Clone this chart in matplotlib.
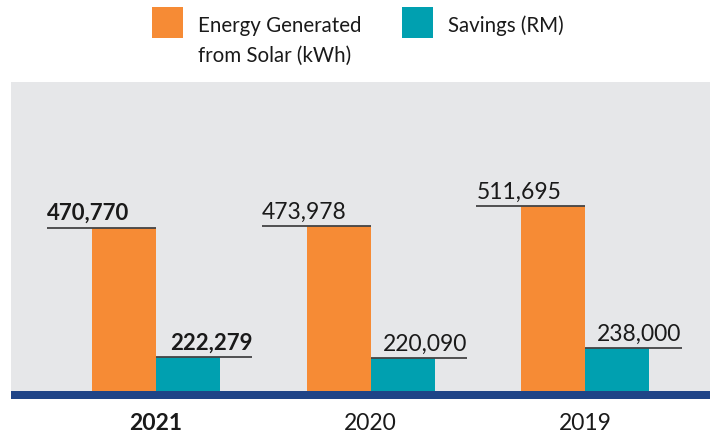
import matplotlib.pyplot as plt
from matplotlib.patches import Rectangle

# Data
years = ['2021', '2020', '2019']
energy_kwh = [470770, 473978, 511695]
savings_rm = [222279, 220090, 238000]
highlight = '2021'

ORANGE = '#f68b35'
TEAL = '#00a0b0'
NAVY = '#1f4487'
PANEL = '#e6e7e9'
INK = '#1a1a1a'

plt.rcParams['font.family'] = ['Lato', 'DejaVu Sans']

W, H = 721, 435
fig = plt.figure(figsize=(W / 100, H / 100), dpi=100)

# axes covers the grey panel
ax = fig.add_axes([11 / W, (H - 392) / H, 699 / W, (392 - 83) / H])
ax.set_facecolor(PANEL)
for s in ax.spines.values():
    s.set_visible(False)

bar_w = 0.298
x = list(range(len(years)))
x_e = [i - bar_w / 2 for i in x]
x_s = [i + bar_w / 2 for i in x]

ax.bar(x_e, energy_kwh, width=bar_w, color=ORANGE, zorder=2)
ax.bar(x_s, savings_rm, width=bar_w, color=TEAL, zorder=2)

ax.set_xlim(-0.675, 2.58)
ax.set_ylim(156000, 751000)
ax.set_yticks([])

# value labels with rule lines
ext_l = 0.21
ext_r = 0.15
for i, yr in enumerate(years):
    bold = yr == highlight
    weight = 'bold' if bold else 'normal'
    fs = 16 if bold else 16.5
    # energy
    x0 = x_e[i] - bar_w / 2 - ext_l
    x1 = x_e[i] + bar_w / 2
    ax.plot([x0, x1], [energy_kwh[i]] * 2, color='#444444', lw=1.3,
            solid_capstyle='butt', zorder=3)
    ax.annotate(f'{energy_kwh[i]:,}', (x0, energy_kwh[i]),
                xytext=(0, 6), textcoords='offset points',
                ha='left', va='baseline', fontsize=fs, fontweight=weight,
                color=INK)
    # savings
    x0 = x_s[i] - bar_w / 2
    x1 = x_s[i] + bar_w / 2 + ext_r
    ax.plot([x0, x1], [savings_rm[i]] * 2, color='#444444', lw=1.3,
            solid_capstyle='butt', zorder=3)
    ax.annotate(f'{savings_rm[i]:,}', (x1, savings_rm[i]),
                xytext=(0, 6), textcoords='offset points',
                ha='right', va='baseline', fontsize=fs, fontweight=weight,
                color=INK)

ax.set_xticks(x)
ax.set_xticklabels(years, fontsize=16.5, color=INK)
for lbl in ax.get_xticklabels():
    if lbl.get_text() == highlight:
        lbl.set_fontweight('bold')
        lbl.set_fontsize(16.5)
ax.tick_params(axis='x', length=0, pad=15)

# navy base band
fig.add_artist(Rectangle((11 / W, (H - 400) / H), 699 / W, 8 / H,
                         transform=fig.transFigure, color=NAVY, lw=0))

# legend drawn by hand (handle aligns with the first text line)
fig.add_artist(Rectangle((152 / W, (H - 39) / H), 31 / W, 31 / H,
                         transform=fig.transFigure, color=ORANGE, lw=0))
fig.text(198 / W, (H - 32) / H, 'Energy Generated', fontsize=14.8,
         color=INK, va='baseline')
fig.text(198 / W, (H - 62) / H, 'from Solar (kWh)', fontsize=14.8,
         color=INK, va='baseline')
fig.add_artist(Rectangle((402 / W, (H - 39) / H), 31 / W, 31 / H,
                         transform=fig.transFigure, color=TEAL, lw=0))
fig.text(448 / W, (H - 32) / H, 'Savings (RM)', fontsize=14.8,
         color=INK, va='baseline')

fig.savefig('out.png', dpi=100)
